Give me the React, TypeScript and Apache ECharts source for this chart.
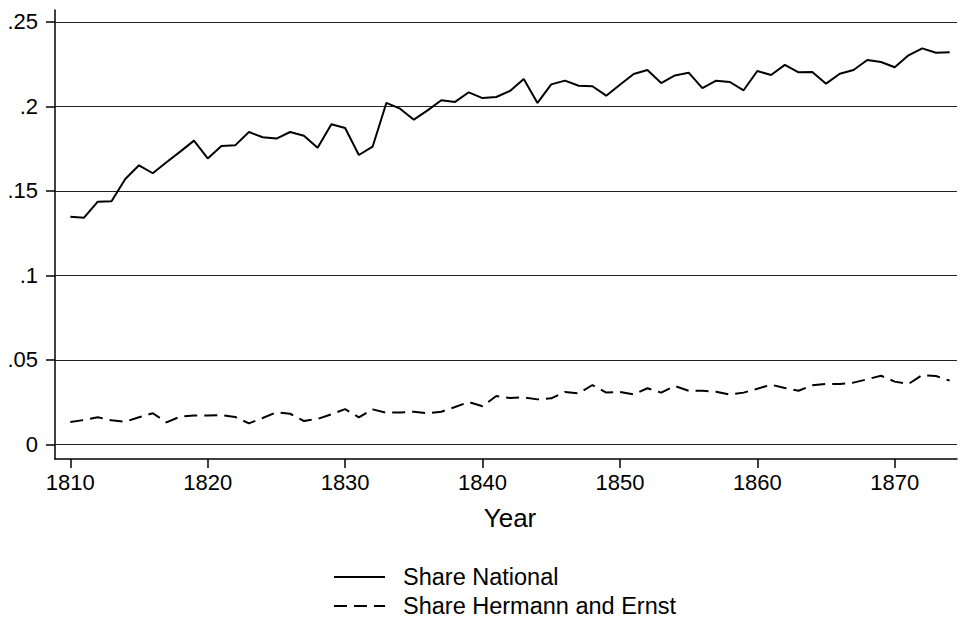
import React, { useEffect, useRef } from "react";
import * as echarts from "echarts";

const years: number[] = [];
for (let y = 1810; y <= 1874; y++) years.push(y);

const shareNational = [
  0.1348, 0.1342, 0.1437, 0.1439, 0.1571, 0.1652, 0.1605, 0.167, 0.1733, 0.1798,
  0.1693, 0.1766, 0.177, 0.1849, 0.1818, 0.181, 0.1849, 0.1827, 0.1756, 0.1895,
  0.1873, 0.1713, 0.1762, 0.2021, 0.1987, 0.1922, 0.1977, 0.2037, 0.2027, 0.2084,
  0.205, 0.2056, 0.2092, 0.2163, 0.2021, 0.2131, 0.2153, 0.2123, 0.212, 0.2064,
  0.2129, 0.2192, 0.2216, 0.2139, 0.2184, 0.22, 0.2109, 0.2153, 0.2145, 0.2096,
  0.221, 0.2186, 0.2246, 0.2202, 0.2204, 0.2135, 0.2194, 0.2216, 0.2275, 0.2263,
  0.2232, 0.2303, 0.2344, 0.2318, 0.2321,
];

const shareHermannErnst = [
  0.0133, 0.0145, 0.0161, 0.0143, 0.0135, 0.0161, 0.0185, 0.0131, 0.0165, 0.0171,
  0.0171, 0.0173, 0.0163, 0.0125, 0.0157, 0.019, 0.0182, 0.0139, 0.0151, 0.0179,
  0.0209, 0.0161, 0.0208, 0.0188, 0.019, 0.0194, 0.0185, 0.0194, 0.0222, 0.0251,
  0.0226, 0.0287, 0.0275, 0.0279, 0.0267, 0.0273, 0.0311, 0.0303, 0.0352, 0.0307,
  0.0311, 0.0296, 0.0333, 0.0307, 0.0346, 0.0318, 0.0318, 0.0312, 0.0295, 0.0307,
  0.033, 0.0354, 0.0334, 0.0318, 0.035, 0.0358, 0.0358, 0.0366, 0.0386, 0.0407,
  0.0372, 0.0358, 0.0411, 0.0405, 0.0378,
];

const xTicks = [1810, 1820, 1830, 1840, 1850, 1860, 1870];
const yTicks = [0, 0.05, 0.1, 0.15, 0.2, 0.25];
const yTickLabels = ["0", ".05", ".1", ".15", ".2", ".25"];
const seriesNames = ["Share National", "Share Hermann and Ernst"];

const FONT = "'Liberation Sans', Arial, Helvetica, sans-serif";

const legendBase = {
  orient: "horizontal",
  left: 333,
  itemWidth: 51,
  itemHeight: 14,
  itemGap: 0,
  padding: 0,
  itemStyle: { opacity: 0, borderWidth: 0 },
  lineStyle: { width: 2 },
  textStyle: { fontSize: 23.5, color: "#000", fontFamily: FONT, padding: [0, 0, 0, 13] },
};

export default function App() {
  const ref = useRef<HTMLDivElement>(null);
  useEffect(() => {
    if (!ref.current) return;
    const chart = echarts.init(ref.current, undefined, { renderer: "svg" });
    chart.setOption({
      animation: false,
      backgroundColor: "#ffffff",
      textStyle: { fontFamily: FONT },
      grid: { left: 55, right: 3, top: 10, bottom: 163, containLabel: false },
      legend: [
        { ...legendBase, top: 565, data: [seriesNames[0]] },
        { ...legendBase, top: 594, data: [seriesNames[1]] },
      ],
      xAxis: {
        type: "value",
        min: 1808.886,
        max: 1874.53,
        name: "Year",
        nameLocation: "middle",
        nameGap: 46,
        nameTextStyle: { fontSize: 26, color: "#000", fontFamily: FONT, padding: [0, 0, 0, 8] },
        axisLine: { show: true, onZero: false, lineStyle: { color: "#000", width: 1.5 } },
        axisTick: { show: true, length: 9, customValues: xTicks, lineStyle: { color: "#000", width: 1.5 } },
        axisLabel: {
          customValues: xTicks,
          fontSize: 22,
          color: "#000",
          margin: 12,
          fontFamily: FONT,
          formatter: (v: number) => String(Math.round(v)),
        },
        splitLine: { show: false },
      },
      yAxis: {
        type: "value",
        min: -0.00858,
        max: 0.2571,
        axisLine: { show: true, onZero: false, lineStyle: { color: "#000", width: 1.5 } },
        axisTick: { show: true, length: 9, customValues: yTicks, lineStyle: { color: "#000", width: 1.5 } },
        axisLabel: {
          customValues: yTicks,
          fontSize: 22,
          color: "#000",
          margin: 17,
          fontFamily: FONT,
          formatter: (v: number) => {
            const i = yTicks.findIndex((t) => Math.abs(t - v) < 1e-6);
            return i >= 0 ? yTickLabels[i] : "";
          },
        },
        splitLine: { show: true, lineStyle: { color: "#222", width: 1.2 } },
      },
      series: [
        {
          name: seriesNames[0],
          type: "line",
          data: years.map((y, i) => [y, shareNational[i]]),
          symbol: "none",
          lineStyle: { color: "#000", width: 2 },
          itemStyle: { color: "#000" },
        },
        {
          name: seriesNames[1],
          type: "line",
          data: years.map((y, i) => [y, shareHermannErnst[i]]),
          symbol: "none",
          lineStyle: { color: "#000", width: 2, type: [13, 7] },
          itemStyle: { color: "#000" },
        },
      ],
    });
    return () => chart.dispose();
  }, []);
  return (
    <div
      ref={ref}
      style={{ position: "fixed", left: 0, top: 0, width: 960, height: 622, background: "#fff" }}
    />
  );
}
